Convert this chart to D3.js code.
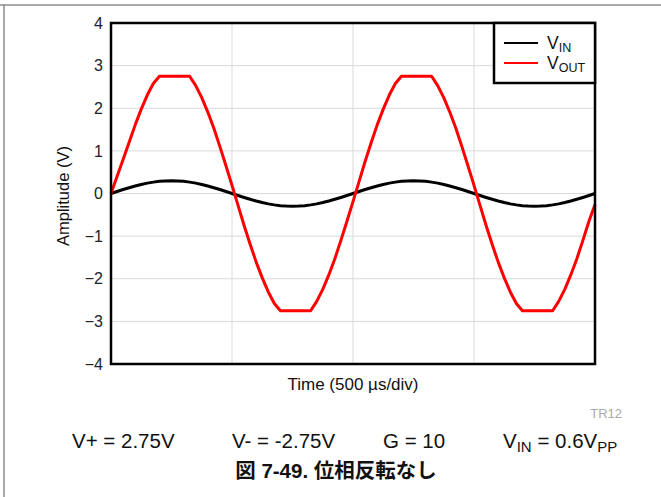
<!DOCTYPE html>
<html>
<head>
<meta charset="utf-8">
<script src="https://cdn.jsdelivr.net/npm/d3@7/dist/d3.min.js"></script>
<style>
  body { margin: 0; background: #fff; }
  svg { display: block; font-family: Arial, "Liberation Sans", "Noto Sans CJK JP", sans-serif; }
  .grid line { stroke: #d9d9d9; stroke-width: 1; }
</style>
</head>
<body>
<svg id="chart" width="661" height="497"></svg>
<script>
// Tiempo en µs, muestras cada 25 µs
const timeUs = d3.range(0, 2001, 25);

// V_IN (0.6 Vpp)
const vinValues = [
  0, 0.047, 0.093, 0.136, 0.176, 0.212, 0.243, 0.267, 0.285, 0.296, 0.300,
  0.296, 0.285, 0.267, 0.243, 0.212, 0.176, 0.136, 0.093, 0.047,
  0, -0.047, -0.093, -0.136, -0.176, -0.212, -0.243, -0.267, -0.285, -0.296, -0.300,
  -0.296, -0.285, -0.267, -0.243, -0.212, -0.176, -0.136, -0.093, -0.047,
  0, 0.047, 0.093, 0.136, 0.176, 0.212, 0.243, 0.267, 0.285, 0.296, 0.300,
  0.296, 0.285, 0.267, 0.243, 0.212, 0.176, 0.136, 0.093, 0.047,
  0, -0.047, -0.093, -0.136, -0.176, -0.212, -0.243, -0.267, -0.285, -0.296, -0.300,
  -0.296, -0.285, -0.267, -0.243, -0.212, -0.176, -0.136, -0.093, -0.047,
  0
];

// V_OUT (recortada a ±2.75 V)
const voutValues = [
  0, 0.40, 0.80, 1.20, 1.61, 1.98, 2.31, 2.58, 2.75, 2.75, 2.75, 2.75, 2.75, 2.75,
  2.53, 2.25, 1.91, 1.53, 1.10, 0.65, 0.19,
  -0.28, -0.75, -1.19, -1.61, -1.98, -2.31, -2.58, -2.75, -2.75, -2.75, -2.75, -2.75, -2.75,
  -2.53, -2.25, -1.91, -1.53, -1.10, -0.65, -0.19,
  0.28, 0.75, 1.19, 1.61, 1.98, 2.31, 2.58, 2.75, 2.75, 2.75, 2.75, 2.75, 2.75,
  2.53, 2.25, 1.91, 1.53, 1.10, 0.65, 0.19,
  -0.28, -0.75, -1.19, -1.61, -1.98, -2.31, -2.58, -2.75, -2.75, -2.75, -2.75, -2.75, -2.75,
  -2.53, -2.25, -1.91, -1.53, -1.10, -0.65, -0.26
];

const yTicks = [-4, -3, -2, -1, 0, 1, 2, 3, 4];
const xGridUs = [500, 1000, 1500];

const plot = { left: 111, top: 23, right: 595, bottom: 364 };

const svg = d3.select("#chart");

// Marco exterior de la página
svg.append("line").attr("x1", 0).attr("x2", 661).attr("y1", 5).attr("y2", 5)
  .attr("stroke", "#8c8c8c").attr("stroke-width", 1.5);
svg.append("line").attr("x1", 4).attr("x2", 4).attr("y1", 5).attr("y2", 497)
  .attr("stroke", "#8c8c8c").attr("stroke-width", 1.5);

const x = d3.scaleLinear().domain([0, 2000]).range([plot.left, plot.right]);
const y = d3.scaleLinear().domain([-4, 4]).range([plot.bottom, plot.top]);

// Rejilla
const grid = svg.append("g").attr("class", "grid");
grid.selectAll(".hg").data(yTicks.slice(1, -1)).enter().append("line")
  .attr("x1", plot.left).attr("x2", plot.right)
  .attr("y1", d => y(d)).attr("y2", d => y(d));
grid.selectAll(".vg").data(xGridUs).enter().append("line")
  .attr("x1", d => x(d)).attr("x2", d => x(d))
  .attr("y1", plot.top).attr("y2", plot.bottom);

// Etiquetas del eje Y
const yAxis = d3.axisLeft(y).tickValues(yTicks).tickSize(0).tickPadding(8).tickFormat(d3.format("d"));
const gy = svg.append("g").attr("transform", `translate(${plot.left},0)`).call(yAxis);
gy.select(".domain").remove();
gy.selectAll("text").attr("font-size", 16).attr("fill", "#222")
  .attr("font-family", "Arial, 'Liberation Sans', sans-serif");

// Curvas
const lineGen = vals => d3.line()
  .x((d, i) => x(timeUs[i]))
  .y(d => y(d))
  .curve(d3.curveLinear)(vals);

svg.append("path").attr("d", lineGen(vinValues))
  .attr("fill", "none").attr("stroke", "#000").attr("stroke-width", 3);
svg.append("path").attr("d", lineGen(voutValues))
  .attr("fill", "none").attr("stroke", "#ff0000").attr("stroke-width", 3)
  .attr("stroke-linejoin", "round");

// Marco del gráfico
svg.append("rect")
  .attr("x", plot.left).attr("y", plot.top)
  .attr("width", plot.right - plot.left).attr("height", plot.bottom - plot.top)
  .attr("fill", "none").attr("stroke", "#000").attr("stroke-width", 2.5);

// Leyenda
const leg = svg.append("g");
leg.append("rect").attr("x", 494).attr("y", plot.top).attr("width", plot.right - 494).attr("height", 60)
  .attr("fill", "#fff").attr("stroke", "#000").attr("stroke-width", 2.5);
const legItems = [
  { sub: "IN", color: "#000", y: 43 },
  { sub: "OUT", color: "#ff0000", y: 63 }
];
legItems.forEach(it => {
  leg.append("line").attr("x1", 504).attr("x2", 538).attr("y1", it.y).attr("y2", it.y)
    .attr("stroke", it.color).attr("stroke-width", 2);
  const t = leg.append("text").attr("x", 547).attr("y", it.y + 6).attr("font-size", 17.5).attr("fill", "#111");
  t.append("tspan").text("V");
  t.append("tspan").attr("font-size", 12.5).attr("dy", 3).text(it.sub);
});

// Títulos de ejes
svg.append("text").attr("x", 353).attr("y", 390).attr("text-anchor", "middle")
  .attr("font-size", 17).attr("fill", "#111").text("Time (500 µs/div)");
svg.append("text").attr("transform", "translate(69,196) rotate(-90)").attr("text-anchor", "middle")
  .attr("font-size", 16.5).attr("fill", "#111").text("Amplitude (V)");

svg.append("text").attr("x", 622).attr("y", 418).attr("text-anchor", "end")
  .attr("font-size", 13).attr("fill", "#aaa").text("TR12");

// Condiciones
const cond = [
  { x: 72, parts: [["V+ = 2.75V"]] },
  { x: 232, parts: [["V- = -2.75V"]] },
  { x: 383, parts: [["G = 10"]] },
  { x: 503, parts: [["V"], ["IN", true], [" = 0.6V"], ["PP", true]] }
];
cond.forEach(c => {
  const t = svg.append("text").attr("x", c.x).attr("y", 448).attr("font-size", 20.5).attr("fill", "#111");
  let down = false;
  c.parts.forEach(([s, sub]) => {
    const ts = t.append("tspan").text(s);
    if (sub && !down) { ts.attr("font-size", 15).attr("dy", 4); down = true; }
    else if (!sub && down) { ts.attr("dy", -4); down = false; }
  });
});

// Pie de figura
svg.append("text").attr("x", 336).attr("y", 478).attr("text-anchor", "middle")
  .attr("font-size", 20.5).attr("font-weight", "bold").attr("fill", "#111")
  .attr("font-family", "Arial, 'Liberation Sans', 'Noto Sans CJK JP', sans-serif")
  .text("図 7-49. 位相反転なし");
</script>
</body>
</html>
